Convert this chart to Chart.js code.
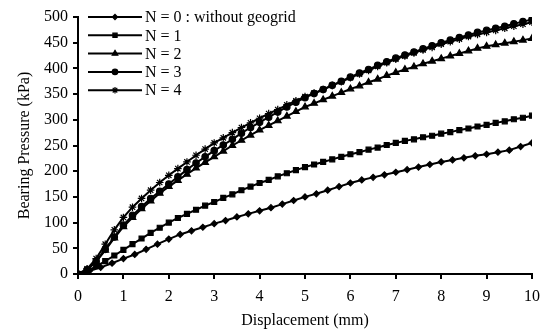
<!DOCTYPE html>
<html>
<head>
<meta charset="utf-8">
<script src="https://cdn.jsdelivr.net/npm/chart.js@4/dist/chart.umd.min.js"></script>
<style>
html,body{margin:0;padding:0;background:#fff;}
#wrap{width:548px;height:331px;position:relative;}
</style>
</head>
<body>
<div id="wrap"><canvas id="c" width="548" height="331"></canvas></div>
<script>
// Displacement (mm) sampling for each test series
const dispN0 = [0,0.25,0.5,0.75,1,1.25,1.5,1.75,2,2.25,2.5,2.75,3,3.25,3.5,3.75,4,4.25,4.5,4.75,5,5.25,5.5,5.75,6,6.25,6.5,6.75,7,7.25,7.5,7.75,8,8.25,8.5,8.75,9,9.25,9.5,9.75,10];
const dispN = [0,0.2,0.4,0.6,0.8,1,1.2,1.4,1.6,1.8,2,2.2,2.4,2.6,2.8,3,3.2,3.4,3.6,3.8,4,4.2,4.4,4.6,4.8,5,5.2,5.4,5.6,5.8,6,6.2,6.4,6.6,6.8,7,7.2,7.4,7.6,7.8,8,8.2,8.4,8.6,8.8,9,9.2,9.4,9.6,9.8,10];

// Bearing pressure (kPa)
const pressN0 = [0,6,13,21,30,38,48,58,68,77,84,91,98,104,111,117,123,129,136,143,150,156,163,170,177,183,188,193,198,203,208,213,218,222,226,230,233,237,241,248,255];
const pressN1 = [0,6,15,25,36,47,58,69,80,90,100,109,117,125,133,140,148,155,163,170,177,183,190,196,202,208,213,218,223,228,233,237,242,246,251,255,259,262,266,269,273,276,280,283,287,290,294,297,301,304,308];
const pressN2 = [0,8,24,46,70,92,110,127,142,157,170,182,194,206,217,228,239,250,260,270,280,289,298,307,316,325,332,339,346,353,360,366,373,379,386,392,398,403,409,414,419,424,429,434,439,443,446,449,452,455,458];
const pressN3 = [0,8,25,48,72,95,114,131,147,161,175,189,203,216,228,240,251,262,274,285,295,305,315,325,334,343,351,359,367,375,383,391,398,406,413,420,426,432,438,444,450,455,460,465,470,474,478,482,487,491,495];
const pressN4 = [0,10,30,58,86,110,130,147,163,178,192,205,218,231,243,255,265,275,285,294,303,312,320,329,337,345,352,359,367,374,382,389,396,404,411,418,424,430,436,441,447,452,457,462,466,470,474,478,482,486,490];

const seriesLabels = ['N = 0 : without geogrid','N = 1','N = 2','N = 3','N = 4'];
const xTicks = [0,1,2,3,4,5,6,7,8,9,10];
const yTicks = [0,50,100,150,200,250,300,350,400,450,500];

const pts = (xs, ys) => xs.map((x, i) => ({x: x, y: ys[i]}));
const styles = [
  {ps:'rectRot', r:3},
  {ps:'rect', r:3.5},
  {ps:'triangle', r:3.8},
  {ps:'circle', r:3.2},
  {ps:'star', r:3.8}
];
const seriesData = [pts(dispN0,pressN0), pts(dispN,pressN1), pts(dispN,pressN2), pts(dispN,pressN3), pts(dispN,pressN4)];

const datasets = seriesData.map((d, i) => ({
  label: seriesLabels[i],
  data: d,
  borderColor: '#000',
  backgroundColor: '#000',
  borderWidth: 2,
  pointStyle: styles[i].ps,
  pointRadius: styles[i].r,
  pointBorderWidth: 1.2,
  pointBorderColor: '#000',
  pointBackgroundColor: '#000',
  tension: 0,
  fill: false
}));

const FONT = 'Liberation Serif';

const legendPlugin = {
  id: 'customLegend',
  afterDraw(chart) {
    const ctx = chart.ctx;
    const area = chart.chartArea;
    ctx.save();
    chart.data.datasets.forEach((ds, i) => {
      const y = area.top + 0 + i * 18.3;
      const x0 = area.left + 10, x1 = area.left + 64;
      ctx.strokeStyle = '#000';
      ctx.lineWidth = 2;
      ctx.beginPath();
      ctx.moveTo(x0, y); ctx.lineTo(x1, y); ctx.stroke();
      ctx.fillStyle = '#000';
      ctx.lineWidth = 1.2;
      Chart.helpers.drawPoint(ctx, {pointStyle: ds.pointStyle, radius: ds.pointRadius * 0.85, rotation: 0, borderWidth: 1.2}, (x0 + x1) / 2, y);
      ctx.fillStyle = '#000';
      ctx.font = '16px "' + FONT + '"';
      ctx.textBaseline = 'middle';
      ctx.textAlign = 'left';
      ctx.fillText(ds.label, x1 + 3, y + 1);
    });
    ctx.restore();
  }
};

new Chart(document.getElementById('c'), {
  type: 'line',
  data: { datasets: datasets },
  plugins: [legendPlugin],
  options: {
    responsive: false,
    animation: false,
    devicePixelRatio: 1,
    layout: { padding: { left: 0, right: 11, top: 17, bottom: 0 } },
    plugins: { legend: { display: false }, tooltip: { enabled: false } },
    scales: {
      x: {
        type: 'linear',
        min: 0, max: 10,
        afterBuildTicks: (s) => { s.ticks = xTicks.map(v => ({value: v})); },
        afterFit: (s) => { s.height = 57; },
        grid: { display: true, drawOnChartArea: false, drawTicks: true, tickLength: 5, color: '#000', lineWidth: 2 },
        border: { display: true, color: '#000', width: 2 },
        ticks: { color: '#000', padding: 8, maxRotation: 0, font: { family: FONT, size: 16 } },
        title: { display: true, text: 'Displacement (mm)', color: '#000', padding: { top: 0, bottom: 1 }, font: { family: FONT, size: 16 } }
      },
      y: {
        type: 'linear',
        min: 0, max: 500,
        afterBuildTicks: (s) => { s.ticks = yTicks.map(v => ({value: v})); },
        afterFit: (s) => { s.width = 78; },
        grid: { display: true, drawOnChartArea: false, drawTicks: true, tickLength: 5, color: '#000', lineWidth: 2 },
        border: { display: true, color: '#000', width: 2 },
        ticks: { color: '#000', padding: 5, font: { family: FONT, size: 16 } },
        title: { display: true, text: 'Bearing Pressure (kPa)', color: '#000', padding: { top: 15, bottom: 0 }, font: { family: FONT, size: 16 } }
      }
    }
  }
});
</script>
</body>
</html>
